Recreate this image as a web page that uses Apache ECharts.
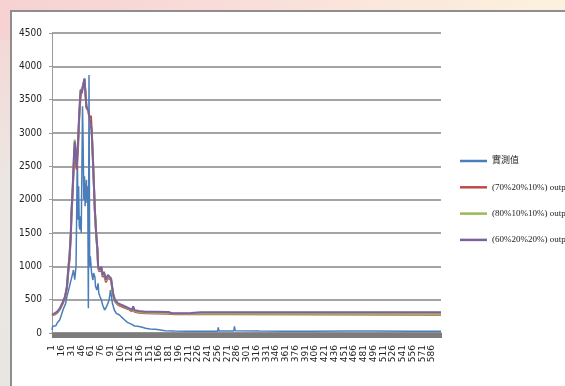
<!DOCTYPE html>
<html><head><meta charset="utf-8">
<script src="https://cdn.jsdelivr.net/npm/echarts@6/dist/echarts.min.js"></script>
<style>
html,body{margin:0;padding:0;width:565px;height:386px;overflow:hidden;}
body{background:linear-gradient(100deg,#f6d2d2 0%,#f9dcd9 35%,#fbe9dc 65%,#fdf5df 100%);position:relative;}
#side{position:absolute;left:0;top:40px;width:11px;height:346px;background:linear-gradient(180deg,#f3d9d7 0%,#ece6e2 40%,#e9e6e2 100%);}
#panel{position:absolute;left:10px;top:10px;width:600px;height:420px;background:#fff;border-left:2px solid #8e8e8e;border-top:2px solid #8e8e8e;}
#chart{position:absolute;left:0;top:0;width:565px;height:386px;}
</style></head>
<body>
<div id="side"></div>
<div id="panel"></div>
<div id="chart"></div>
<script>
// x positions (1-based category numbers) and values
const measuredIdx = [1,2,3,5,7,9,11,13,15,18,20,22,24,26,28,29,31,33,34,36,38,39,40,41,42,43,44,45,46,47,48,49,50,51,52,54,55,56,57,58,59,60,62,64,65,67,68,70,72,73,75,77,79,80,82,85,89,91,93,94,97,100,103,105,109,113,117,120,124,128,133,136,140,145,152,160,168,175,190,210,230,256,257,258,281,282,283,320,360,400,453,454,455,477,478,479,499,500,501,550,600];
const measuredVal = [45,100,80,120,110,150,170,200,260,350,330,440,545,620,700,745,820,900,945,800,1000,1800,2750,1700,2200,1600,1550,1750,1500,2400,3400,2800,2000,2350,1900,2300,1950,2200,370,3870,1000,1150,895,795,900,845,700,645,745,600,545,495,420,395,345,395,495,645,520,445,345,295,280,270,230,195,160,145,130,105,100,95,85,70,60,55,45,35,30,25,28,25,85,30,30,100,35,30,28,28,30,45,30,30,55,30,30,50,30,28,28];

const out70Idx = [1,5,9,13,17,21,24,26,28,30,31,33,35,36,37,39,40,41,43,45,47,49,51,52,54,57,59,61,62,64,66,67,69,71,72,74,77,79,81,84,87,90,92,95,98,103,112,120,124,126,128,135,145,180,190,230,280,281,282,600];
const out70Val = [260,275,300,350,430,520,670,900,1100,1450,1750,2150,2600,2780,2650,2450,2430,2750,3250,3550,3580,3700,3800,3780,3380,3330,3220,3260,3080,2620,2100,1830,1470,1220,980,920,960,840,880,760,830,860,790,570,470,420,380,350,325,370,320,305,295,290,280,280,280,295,280,275];

const out80Idx = [1,5,9,13,17,21,24,26,28,30,31,33,35,36,37,39,41,43,45,47,49,51,52,54,57,59,61,62,64,66,67,69,71,72,74,77,79,81,84,87,90,92,95,98,103,112,120,124,126,128,135,145,180,190,230,280,281,282,600];
const out80Val = [270,285,310,360,445,540,700,960,1180,1520,1820,2220,2720,2900,2760,2520,2870,3280,3620,3600,3720,3810,3790,3400,3330,3190,3220,3040,2600,2100,1840,1480,1240,990,935,980,860,905,785,850,880,805,585,480,430,395,360,335,385,330,315,305,300,290,290,290,300,290,285];

const out60Idx = [1,5,9,13,17,21,24,26,28,30,31,33,35,36,37,39,41,43,45,47,49,51,52,54,57,59,61,62,64,66,67,69,71,72,74,77,79,81,84,87,90,92,95,98,103,112,120,124,126,128,135,145,160,180,185,200,215,230,279,280,281,420,421,422,480,481,482,495,496,498,499,600];
const out60Val = [280,295,320,370,450,545,700,950,1150,1500,1800,2200,2700,2870,2750,2500,2850,3300,3650,3600,3720,3820,3800,3400,3340,3200,3230,3050,2600,2100,1850,1500,1250,1000,945,995,870,920,800,870,895,820,600,495,445,405,370,345,400,340,330,320,320,315,300,295,300,310,310,330,310,310,325,310,310,325,310,310,330,330,310,310];

const seriesNames = ['實測值','(70%20%10%) output','(80%10%10%) output','(60%20%20%) output'];
const seriesColors = ['#4a7ebb','#be4b48','#98b954','#7d60a0'];
const yTicks = {min:0, max:4500, interval:500};

const categories = [];
for (let i = 1; i <= 600; i++) categories.push(String(i));

function pairs(idx, val){ return idx.map((x,k)=>[String(x), val[k]]); }
const allData = [pairs(measuredIdx,measuredVal), pairs(out70Idx,out70Val), pairs(out80Idx,out80Val), pairs(out60Idx,out60Val)];

const chart = echarts.init(document.getElementById('chart'), null, {renderer:'canvas'});
chart.setOption({
  backgroundColor:'transparent',
  animation:false,
  grid:{left:52, right:124, top:33, bottom:53, containLabel:false},
  legend:{
    orient:'vertical', left:460, top:155, itemGap:14.3, padding:0,
    icon:'rect', itemWidth:27, itemHeight:2.5,
    data:seriesNames,
    textStyle:{fontSize:9, lineHeight:12, color:'#222', fontFamily:'"Liberation Serif","Noto Sans CJK TC",serif'}
  },
  xAxis:{
    type:'category', data:categories, boundaryGap:false,
    axisLine:{show:true, lineStyle:{color:'#8a8a8a', width:1.5}},
    axisTick:{show:true, interval:0, length:5, lineStyle:{color:'#7c7c7c', width:1}},
    axisLabel:{interval:14, rotate:90, margin:12, fontSize:9, color:'#222', fontFamily:'"DejaVu Sans",sans-serif'},
    splitLine:{show:false}
  },
  yAxis:{
    type:'value', min:yTicks.min, max:yTicks.max, interval:yTicks.interval,
    axisLine:{show:true, lineStyle:{color:'#9a9a9a', width:1}},
    axisTick:{show:true, length:3, lineStyle:{color:'#9a9a9a'}},
    axisLabel:{margin:10, fontSize:10, color:'#222', fontFamily:'"DejaVu Sans Condensed","Liberation Sans",sans-serif',
      formatter:(v)=>String(v)},
    splitLine:{show:true, lineStyle:{color:'#a4a4a4', width:2}}
  },
  series: seriesNames.map((n,k)=>({
    name:n, type:'line', data:allData[k], symbol:'none', smooth:false,
    lineStyle:{color:seriesColors[k], width: k===0 ? 1.5 : 2},
    itemStyle:{color:seriesColors[k]}
  }))
});
</script>
</body></html>
